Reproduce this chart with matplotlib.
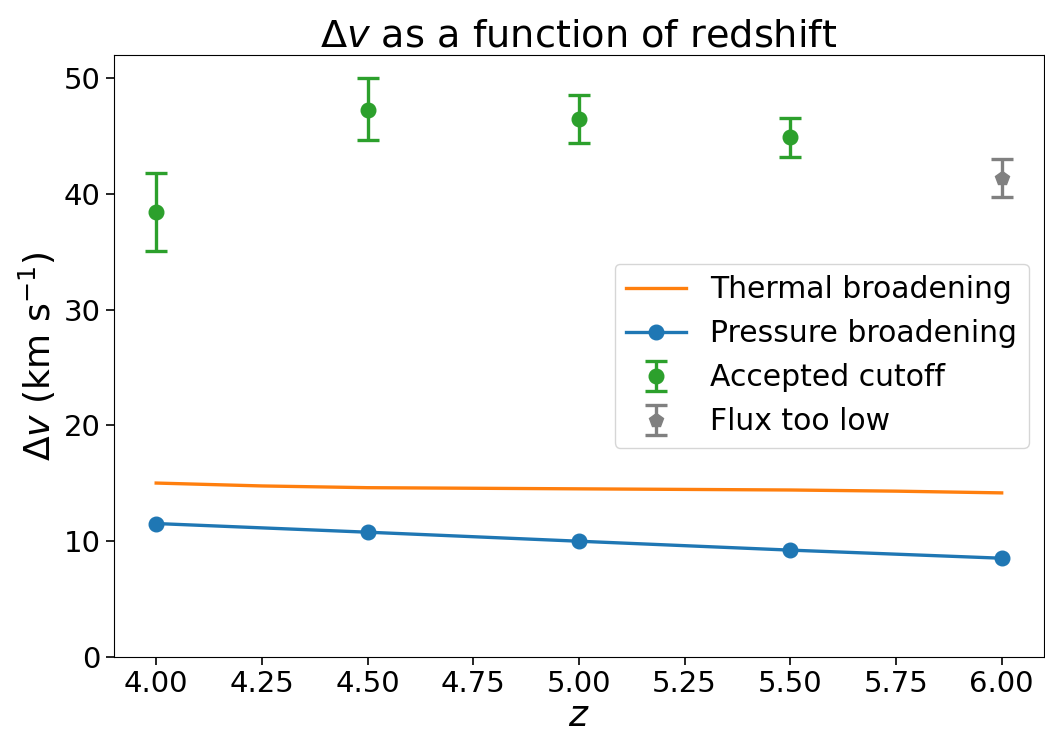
import numpy as np
import matplotlib.pyplot as plt

# data
z_thermal = [4.0, 4.25, 4.5, 4.75, 5.0, 5.25, 5.5, 5.75, 6.0]
dv_thermal = [15.0, 14.75, 14.6, 14.55, 14.5, 14.45, 14.4, 14.3, 14.15]

z_pressure = [4.0, 4.5, 5.0, 5.5, 6.0]
dv_pressure = [11.5, 10.75, 9.97, 9.2, 8.5]

z_acc = [4.0, 4.5, 5.0, 5.5]
dv_acc = [38.4, 47.3, 46.5, 44.9]
err_lo_acc = [3.3, 2.6, 2.1, 1.7]
err_hi_acc = [3.4, 2.7, 2.1, 1.7]

z_low = [6.0]
dv_low = [41.4]
err_lo_low = [1.7]
err_hi_low = [1.6]

plt.rcParams['font.size'] = 21

fig, ax = plt.subplots(figsize=(10.45, 7.36), dpi=100)
fig.subplots_adjust(left=0.109, right=0.999, top=0.925, bottom=0.108)

ax.plot(z_thermal, dv_thermal, color='tab:orange', lw=2.4, label='Thermal broadening')
ax.plot(z_pressure, dv_pressure, color='tab:blue', lw=2.4, marker='o', ms=10.5,
        label='Pressure broadening')
ax.errorbar(z_acc, dv_acc, yerr=[err_lo_acc, err_hi_acc], fmt='o', color='tab:green',
            ms=10.5, elinewidth=2.4, capsize=8, capthick=2.4, label='Accepted cutoff')
ax.errorbar(z_low, dv_low, yerr=[err_lo_low, err_hi_low], fmt='p', color='grey',
            ms=10.5, elinewidth=2.4, capsize=8, capthick=2.4, label='Flux too low')

ax.set_xlim(3.9, 6.1)
ax.set_ylim(0, 52)
ax.set_xticks(np.arange(4.0, 6.01, 0.25))
ax.set_xticklabels([f'{v:.2f}' for v in np.arange(4.0, 6.01, 0.25)])
ax.tick_params(labelsize=21, length=6, width=1.2)
ax.set_xlabel('$z$', fontsize=26, labelpad=1)
ax.set_ylabel(r'$\Delta v$ (km s$^{-1}$)', fontsize=26)
ax.set_title(r'$\Delta v$ as a function of redshift', fontsize=27.5)
ax.legend(loc='center right', fontsize=21.5)

fig.savefig('out.png')
